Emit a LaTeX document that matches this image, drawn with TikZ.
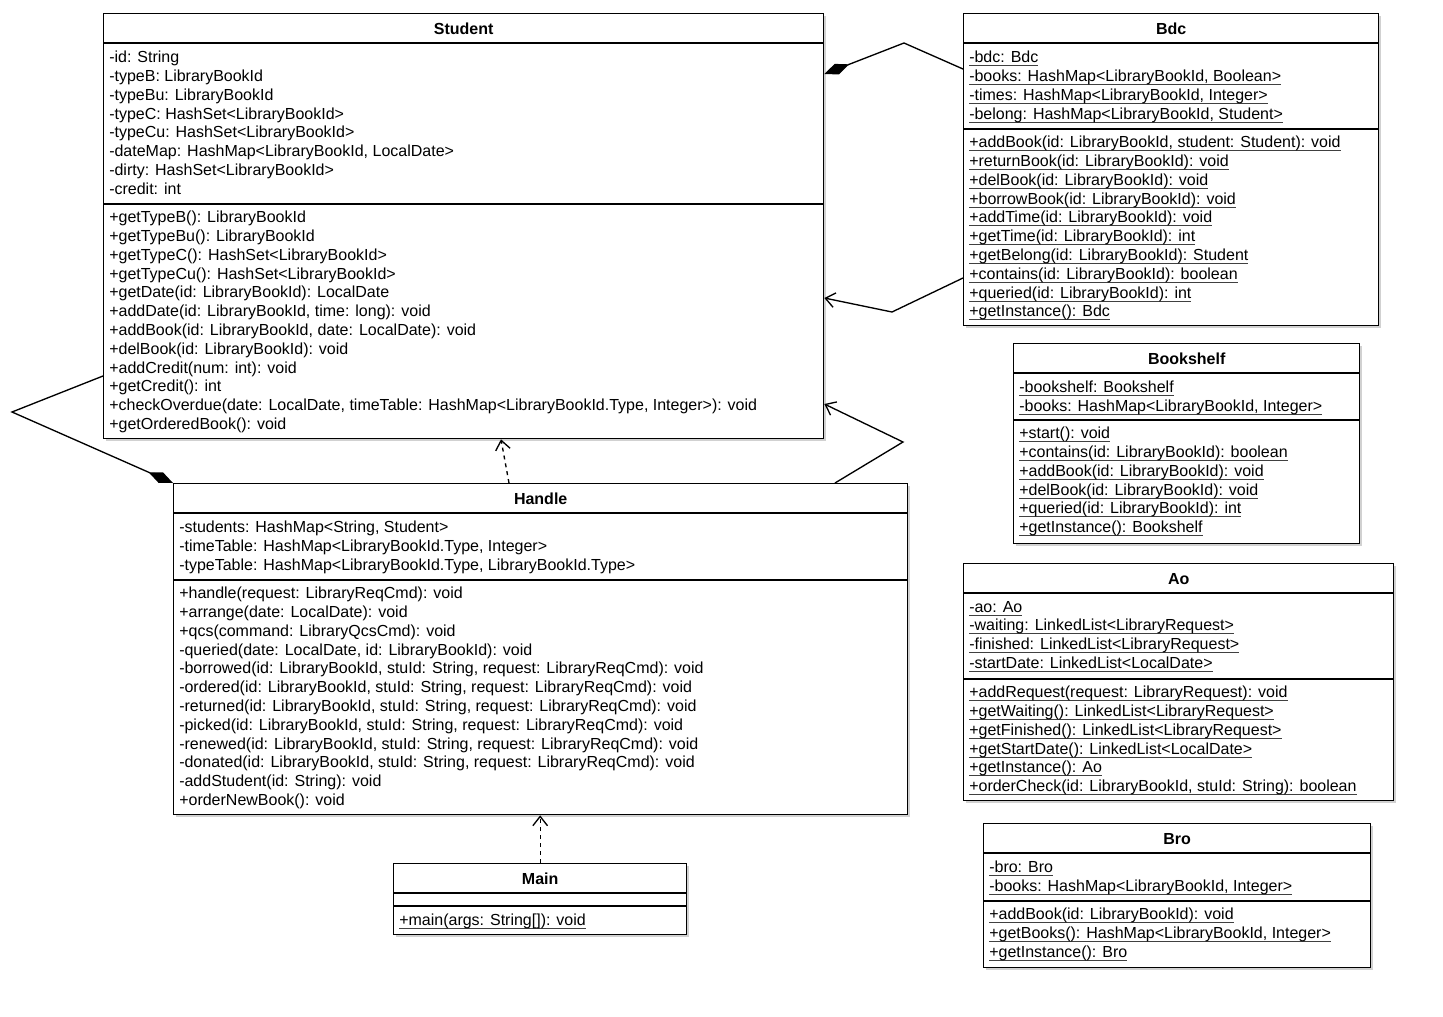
\documentclass[tikz,border=0pt]{standalone}
\usepackage{fontspec}
\setmainfont{Liberation Sans}
\usetikzlibrary{arrows.meta,positioning,shadows}

% underline for static members
\newcommand\ulstatic[1]{\setbox0\hbox{#1}\rlap{\color{black!75}\rule[-2.6pt]{\wd0}{0.8pt}}\box0}

\begin{document}
\begin{tikzpicture}[x=0.75pt, y=-0.75pt,
  font=\fontsize{12pt}{14.1pt}\selectfont,
  cls/.style={draw, fill=white, line width=1pt, inner sep=0pt, anchor=north west,
              drop shadow={shadow xshift=2pt, shadow yshift=-2pt, fill=black, opacity=0.18}},
  cname/.style={font=\fontsize{12pt}{14.1pt}\selectfont\bfseries, inner sep=0pt},
  members/.style={anchor=north west, yshift=8.37pt, align=left, inner sep=0pt,
                  execute at begin node=\strut},
  sep/.style={line width=1pt},
  comp/.style={line width=1pt, -{Diamond[length=20pt, width=8.5pt]}},
  assoc/.style={line width=1pt, -{Straight Barb[length=7pt, width=11pt]}},
  dep/.style={assoc, dash pattern=on 3pt off 3pt}]
  \path[fill=white, use as bounding box] (0,0) rectangle (1443,1017);

  % Student
  \node[cls, minimum width=540pt, minimum height=318.75pt] (student) at (103,13) {};
  \node[cname] (student-name) at ([yshift=-12pt]student.north) {Student};
  \draw[sep] (student.north west) ++(0,30) -- ++(720,0);
  \draw[sep] (student.west |- 0,204) -- (student.east |- 0,204);
  \node[members] (student-attr) at (109,62) {-id: String\\-typeB: LibraryBookId\\-typeBu: LibraryBookId\\-typeC: HashSet<LibraryBookId>\\-typeCu: HashSet<LibraryBookId>\\-dateMap: HashMap<LibraryBookId, LocalDate>\\-dirty: HashSet<LibraryBookId>\\-credit: int};
  \node[members] (student-ops) at (109,222) {+getTypeB(): LibraryBookId\\+getTypeBu(): LibraryBookId\\+getTypeC(): HashSet<LibraryBookId>\\+getTypeCu(): HashSet<LibraryBookId>\\+getDate(id: LibraryBookId): LocalDate\\+addDate(id: LibraryBookId, time: long): void\\+addBook(id: LibraryBookId, date: LocalDate): void\\+delBook(id: LibraryBookId): void\\+addCredit(num: int): void\\+getCredit(): int\\+checkOverdue(date: LocalDate, timeTable: HashMap<LibraryBookId.Type, Integer>): void\\+getOrderedBook(): void};

  % Bdc
  \node[cls, minimum width=311.25pt, minimum height=234pt] (bdc) at (963,13) {};
  \node[cname] (bdc-name) at ([yshift=-12pt]bdc.north) {Bdc};
  \draw[sep] (bdc.north west) ++(0,30) -- ++(415,0);
  \draw[sep] (bdc.west |- 0,129) -- (bdc.east |- 0,129);
  \node[members] (bdc-attr) at (969,62) {\ulstatic{-bdc: Bdc}\\\ulstatic{-books: HashMap<LibraryBookId, Boolean>}\\\ulstatic{-times: HashMap<LibraryBookId, Integer>}\\\ulstatic{-belong: HashMap<LibraryBookId, Student>}};
  \node[members] (bdc-ops) at (969,147) {\ulstatic{+addBook(id: LibraryBookId, student: Student): void}\\\ulstatic{+returnBook(id: LibraryBookId): void}\\\ulstatic{+delBook(id: LibraryBookId): void}\\\ulstatic{+borrowBook(id: LibraryBookId): void}\\\ulstatic{+addTime(id: LibraryBookId): void}\\\ulstatic{+getTime(id: LibraryBookId): int}\\\ulstatic{+getBelong(id: LibraryBookId): Student}\\\ulstatic{+contains(id: LibraryBookId): boolean}\\\ulstatic{+queried(id: LibraryBookId): int}\\\ulstatic{+getInstance(): Bdc}};

  % Bookshelf
  \node[cls, minimum width=259.5pt, minimum height=150pt] (shelf) at (1013,343) {};
  \node[cname] (shelf-name) at ([yshift=-12pt]shelf.north) {Bookshelf};
  \draw[sep] (shelf.north west) ++(0,30) -- ++(346,0);
  \draw[sep] (shelf.west |- 0,420) -- (shelf.east |- 0,420);
  \node[members] (shelf-attr) at (1019,392) {\ulstatic{-bookshelf: Bookshelf}\\\ulstatic{-books: HashMap<LibraryBookId, Integer>}};
  \node[members] (shelf-ops) at (1019,438) {\ulstatic{+start(): void}\\\ulstatic{+contains(id: LibraryBookId): boolean}\\\ulstatic{+addBook(id: LibraryBookId): void}\\\ulstatic{+delBook(id: LibraryBookId): void}\\\ulstatic{+queried(id: LibraryBookId): int}\\\ulstatic{+getInstance(): Bookshelf}};

  % Ao
  \node[cls, minimum width=322.5pt, minimum height=177.75pt] (ao) at (963,563) {};
  \node[cname] (ao-name) at ([yshift=-12pt]ao.north) {Ao};
  \draw[sep] (ao.north west) ++(0,30) -- ++(430,0);
  \draw[sep] (ao.west |- 0,679) -- (ao.east |- 0,679);
  \node[members] (ao-attr) at (969,612) {\ulstatic{-ao: Ao}\\\ulstatic{-waiting: LinkedList<LibraryRequest>}\\\ulstatic{-finished: LinkedList<LibraryRequest>}\\\ulstatic{-startDate: LinkedList<LocalDate>}};
  \node[members] (ao-ops) at (969,697) {\ulstatic{+addRequest(request: LibraryRequest): void}\\\ulstatic{+getWaiting(): LinkedList<LibraryRequest>}\\\ulstatic{+getFinished(): LinkedList<LibraryRequest>}\\\ulstatic{+getStartDate(): LinkedList<LocalDate>}\\\ulstatic{+getInstance(): Ao}\\\ulstatic{+orderCheck(id: LibraryBookId, stuId: String): boolean}};

  % Bro
  \node[cls, minimum width=290.25pt, minimum height=108pt] (bro) at (983,823) {};
  \node[cname] (bro-name) at ([yshift=-12pt]bro.north) {Bro};
  \draw[sep] (bro.north west) ++(0,30) -- ++(387,0);
  \draw[sep] (bro.west |- 0,901) -- (bro.east |- 0,901);
  \node[members] (bro-attr) at (989,872) {\ulstatic{-bro: Bro}\\\ulstatic{-books: HashMap<LibraryBookId, Integer>}};
  \node[members] (bro-ops) at (989,919) {\ulstatic{+addBook(id: LibraryBookId): void}\\\ulstatic{+getBooks(): HashMap<LibraryBookId, Integer>}\\\ulstatic{+getInstance(): Bro}};

  % Handle
  \node[cls, minimum width=550.5pt, minimum height=248.25pt] (handle) at (173,483) {};
  \node[cname] (handle-name) at ([yshift=-12pt]handle.north) {Handle};
  \draw[sep] (handle.north west) ++(0,30) -- ++(734,0);
  \draw[sep] (handle.west |- 0,580) -- (handle.east |- 0,580);
  \node[members] (handle-attr) at (179,532) {-students: HashMap<String, Student>\\-timeTable: HashMap<LibraryBookId.Type, Integer>\\-typeTable: HashMap<LibraryBookId.Type, LibraryBookId.Type>};
  \node[members] (handle-ops) at (179,598) {+handle(request: LibraryReqCmd): void\\+arrange(date: LocalDate): void\\+qcs(command: LibraryQcsCmd): void\\-queried(date: LocalDate, id: LibraryBookId): void\\-borrowed(id: LibraryBookId, stuId: String, request: LibraryReqCmd): void\\-ordered(id: LibraryBookId, stuId: String, request: LibraryReqCmd): void\\-returned(id: LibraryBookId, stuId: String, request: LibraryReqCmd): void\\-picked(id: LibraryBookId, stuId: String, request: LibraryReqCmd): void\\-renewed(id: LibraryBookId, stuId: String, request: LibraryReqCmd): void\\-donated(id: LibraryBookId, stuId: String, request: LibraryReqCmd): void\\-addStudent(id: String): void\\+orderNewBook(): void};

  % Main
  \node[cls, minimum width=219.75pt, minimum height=53.25pt] (main) at (393,863) {};
  \node[cname] (main-name) at ([yshift=-12pt]main.north) {Main};
  \draw[sep] (main.north west) ++(0,30) -- ++(293,0);
  \draw[sep] (main.west |- 0,906) -- (main.east |- 0,906);
  \node[members] (main-ops) at (399,923) {\ulstatic{+main(args: String[]): void}};

  % relations
  \draw[comp] (bdc.west |- 0,69) -- (904,43) -- (student.east |- 0,74);
  \draw[comp] (student.west |- 0,376) -- (12,412) -- (handle.north west);
  \draw[assoc] (bdc.west |- 0,278) -- (892,312) -- (student.east |- 0,298);
  \draw[assoc] (handle.north -| 835,0) -- (903,442) -- (student.east |- 0,404);
  \draw[dep] (handle.north -| 509,0) -- (student.south -| 501,0);
  \draw[dep] (main.north) -- (handle.south -| main.north);
\end{tikzpicture}
\end{document}
